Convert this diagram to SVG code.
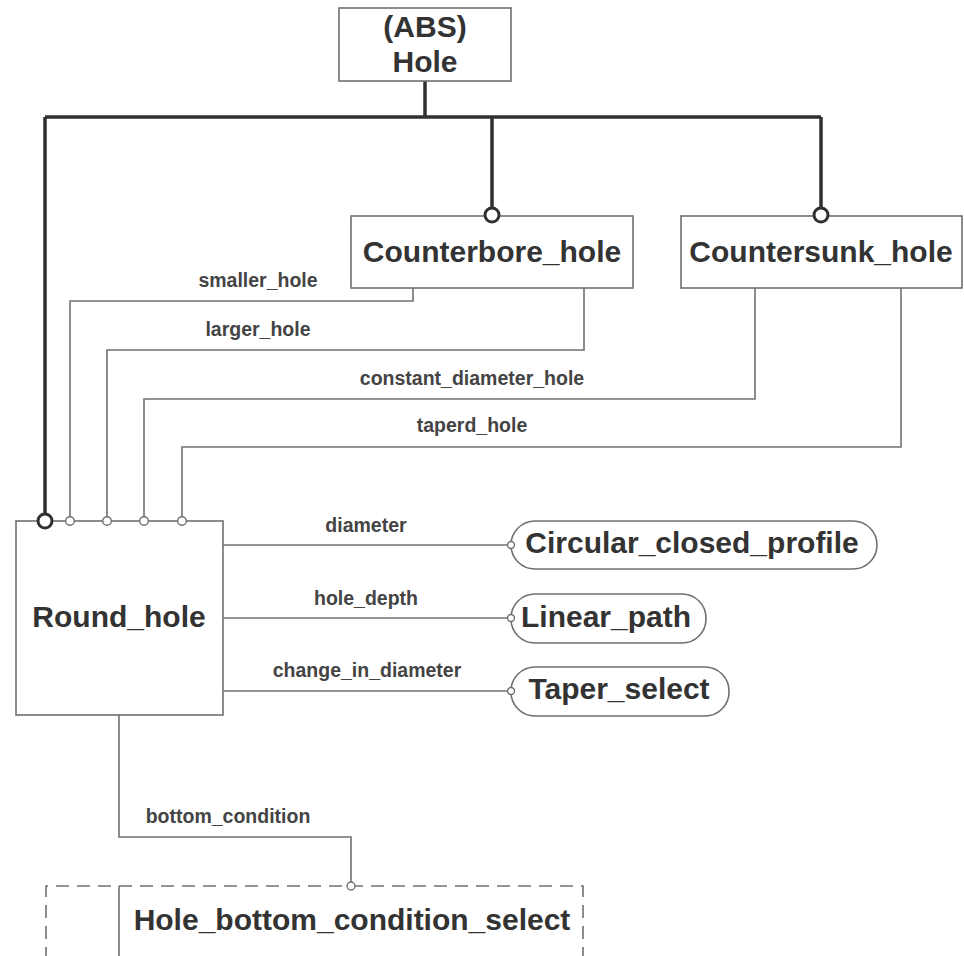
<svg xmlns="http://www.w3.org/2000/svg" width="964" height="956" viewBox="0 0 964 956">
<style>
.box{fill:#fff;stroke:#707070;stroke-width:1.6}
.dash{fill:none;stroke:#707070;stroke-width:1.6;stroke-dasharray:13 8}
.thin{fill:none;stroke:#707070;stroke-width:1.6}
.thick{fill:none;stroke:#303030;stroke-width:3.5}
.ocirc{fill:#fff;stroke:#303030;stroke-width:3}
.scirc{fill:#fff;stroke:#707070;stroke-width:1.4}
.node{font-family:"Liberation Sans",Arial,sans-serif;font-weight:bold;font-size:30px;fill:#333}
.lbl{font-family:"Liberation Sans",Arial,sans-serif;font-weight:bold;font-size:19.5px;fill:#444}
</style>
<rect width="964" height="956" fill="#fff"/>
<g id="connectors">
  <polyline class="thick" points="425,81 425,117"/>
  <polyline class="thick" points="45,117 821,117"/>
  <polyline class="thick" points="45,117 45,514"/>
  <polyline class="thick" points="492,117 492,208"/>
  <polyline class="thick" points="821,117 821,208"/>
  <polyline class="thin" points="413,288 413,301 70,301 70,517"/>
  <polyline class="thin" points="584,288 584,350 107,350 107,517"/>
  <polyline class="thin" points="755,288 755,399 144,399 144,517"/>
  <polyline class="thin" points="901,288 901,447 182,447 182,517"/>
  <polyline class="thin" points="223,545 508,545"/>
  <polyline class="thin" points="223,618 508,618"/>
  <polyline class="thin" points="223,691 508,691"/>
  <polyline class="thin" points="119,715 119,837 351,837 351,882"/>
  <text class="lbl" x="258" y="287" text-anchor="middle">smaller_hole</text>
  <text class="lbl" x="258" y="336" text-anchor="middle">larger_hole</text>
  <text class="lbl" x="472" y="385" text-anchor="middle">constant_diameter_hole</text>
  <text class="lbl" x="472" y="432" text-anchor="middle">taperd_hole</text>
  <text class="lbl" x="366" y="532" text-anchor="middle">diameter</text>
  <text class="lbl" x="366" y="605" text-anchor="middle">hole_depth</text>
  <text class="lbl" x="367" y="677" text-anchor="middle">change_in_diameter</text>
  <text class="lbl" x="228" y="823" text-anchor="middle">bottom_condition</text>
</g>
<g id="hole">
  <rect class="box" x="339" y="8" width="172" height="73"/>
  <text class="node" x="425" y="37" text-anchor="middle">(ABS)</text>
  <text class="node" x="425" y="72" text-anchor="middle">Hole</text>
</g>
<g id="counterbore_hole">
  <rect class="box" x="351" y="216" width="282" height="72"/>
  <text class="node" x="492" y="262" text-anchor="middle">Counterbore_hole</text>
</g>
<g id="countersunk_hole">
  <rect class="box" x="681" y="216" width="281" height="72"/>
  <text class="node" x="821" y="262" text-anchor="middle">Countersunk_hole</text>
</g>
<g id="round_hole">
  <rect class="box" x="16" y="521" width="207" height="194"/>
  <text class="node" x="119" y="627" text-anchor="middle">Round_hole</text>
</g>
<g id="circular_closed_profile">
  <rect class="box" x="511" y="521" width="366" height="48" rx="24"/>
  <text class="node" x="692" y="553" text-anchor="middle">Circular_closed_profile</text>
</g>
<g id="linear_path">
  <rect class="box" x="511" y="594" width="195" height="49" rx="24"/>
  <text class="node" x="606" y="627" text-anchor="middle">Linear_path</text>
</g>
<g id="taper_select">
  <rect class="box" x="511" y="667" width="218" height="49" rx="24"/>
  <text class="node" x="619" y="699" text-anchor="middle">Taper_select</text>
</g>
<g id="hole_bottom_condition_select">
  <polyline class="dash" points="46,960 46,886 583,886 583,960"/>
  <line class="thin" x1="119" y1="886" x2="119" y2="960"/>
  <text class="node" x="352" y="930" text-anchor="middle">Hole_bottom_condition_select</text>
</g>
<g id="connector_ends">
  <circle class="ocirc" cx="492" cy="215" r="7"/>
  <circle class="ocirc" cx="821" cy="215" r="7"/>
  <circle class="ocirc" cx="45" cy="521" r="7"/>
  <circle class="scirc" cx="70" cy="521" r="4.3"/>
  <circle class="scirc" cx="107" cy="521" r="4.3"/>
  <circle class="scirc" cx="144" cy="521" r="4.3"/>
  <circle class="scirc" cx="182" cy="521" r="4.3"/>
  <circle class="scirc" cx="511" cy="545" r="3.5"/>
  <circle class="scirc" cx="511" cy="618" r="3.5"/>
  <circle class="scirc" cx="511" cy="691" r="3.5"/>
  <circle class="scirc" cx="351" cy="886" r="4"/>
</g>
</svg>
